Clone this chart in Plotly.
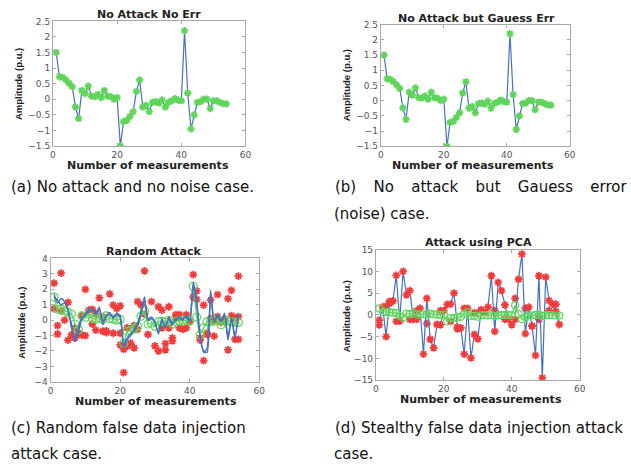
import plotly.graph_objects as go

W, H = 631, 470

# ---------------- data ----------------
meas_idx = list(range(1, 55))

no_attack = [1.5, 0.72, 0.70, 0.62, 0.52, 0.40, -0.25, -0.62, 0.28, 0.18,
             0.42, 0.10, 0.08, 0.15, 0.05, 0.28, 0.10, 0.08, 0.00, 0.05,
             -1.50, -0.72, -0.68, -0.55, -0.40, 0.25, 0.62, -0.25, -0.20, -0.40,
             -0.10, -0.08, -0.12, -0.02, -0.25, -0.10, -0.05, 0.02, -0.03, -0.05,
             2.20, 0.20, -0.95, -0.50, -0.10, -0.08, 0.00, 0.00, -0.30, -0.05,
             -0.05, -0.10, -0.14, -0.15]

gauss_err = [1.5, 0.72, 0.70, 0.62, 0.52, 0.40, -0.24, -0.62, 0.28, 0.18,
             0.42, 0.10, 0.08, 0.15, 0.05, 0.28, 0.10, 0.08, 0.00, 0.05,
             -1.50, -0.72, -0.68, -0.55, -0.40, 0.25, 0.62, -0.25, -0.20, -0.40,
             -0.10, -0.08, -0.12, -0.02, -0.25, -0.10, -0.05, 0.02, -0.03, -0.05,
             2.20, 0.20, -0.95, -0.50, -0.10, -0.08, 0.00, 0.00, -0.30, -0.05,
             -0.05, -0.10, -0.14, -0.15]

rand_est1 = [1.7, 1.1, 1.4, 1.2, 0.6, -0.3, -1.4, -0.8, 0.1, 0.4,
             0.7, 0.75, 0.35, 0.85, -0.3, 0.3, 0.5, 0.1, 0.45, 0.3,
             -1.6, -1.15, -0.9, -0.7, -0.2, 0.55, 1.5, 0.1, 0.2, -0.1,
             -0.9, 0.1, -0.5, 0.2, -0.2, 0.0, 0.2, 0.1, 0.2, -0.1,
             2.45, 1.3, -1.2, -2.0, -2.1, 1.95, -0.1, 0.35, -0.1, 0.45,
             -1.3, 0.2, -1.2, 0.4]

rand_est2 = [1.5, 1.3, 1.0, 1.1, 0.7, -0.5, -1.2, -0.5, 0.2, 0.3,
             0.6, 0.6, 0.5, 0.7, -0.1, 0.25, 0.35, 0.2, 0.35, 0.2,
             -1.8, -1.3, -1.0, -0.6, -0.35, 0.4, 1.3, 0.0, 0.1, -0.2,
             -0.8, 0.0, -0.4, 0.1, -0.3, 0.1, 0.1, 0.0, 0.3, 0.0,
             2.3, 1.0, -1.0, -2.1, -1.8, 1.7, 0.0, 0.2, 0.0, 0.3,
             -1.1, 0.1, -1.0, 0.3]

rand_att_x = [1, 1, 2, 2, 3, 3, 4, 5, 5, 6, 7, 7, 8, 9, 9, 10, 10, 11, 12, 12,
              13, 14, 13, 15, 15, 16, 17, 16, 18, 18, 19, 20, 20, 21, 20, 21, 22, 22, 23, 24,
              24, 25, 25, 26, 27, 27, 28, 29, 30, 31, 31, 32, 32, 33, 33, 34, 34, 35, 35, 36,
              36, 37, 37, 38, 39, 39, 40, 41, 41, 42, 42, 43, 43, 44, 44, 45, 45, 46, 46, 47,
              47, 48, 48, 49, 49, 50, 51, 51, 52, 52, 53, 53, 54, 54, 54]
rand_att_y = [2.4, 0.75, -0.35, -0.9, 3.05, 0.6, 0.0, 1.15, -1.3, -0.95, -0.5, -1.15, -0.85, -0.97, 0.3, 2.0, -1.0, 0.65, 0.7, -0.25,
              0.4, 1.45, -0.65, -0.72, 0.2, -0.7, 1.7, -0.8, 0.97, -0.85, 0.75, 0.93, -0.85, -3.4, -1.6, -1.9, -0.5, -1.7, -1.5, -1.8,
              -0.35, -0.6, 1.2, 0.97, 3.2, 0.4, -0.93, 1.2, -1.67, -2.0, 0.87, 0.65, -0.5, -1.52, -1.93, -0.5, 0.87, -1.15, -1.35, 0.12,
              0.35, -0.5, 0.35, -0.6, 0.35, -0.5, -0.1, 2.95, 1.5, 1.9, 1.35, -1.15, -1.3, -2.63, 0.97, -0.83, -0.93, 1.3, 0.1, -1.04,
              -0.1, 0.23, 1.65, -0.08, -0.15, 0.0, 1.4, -1.93, 1.93, 0.3, -1.25, 0.12, -1.25, 2.85, 0.23]

pca_attack = [-1.2, 1.8, -5.0, 3.1, 3.2, 9.1, -1.4, 10.0, 4.6, 5.6,
              -1.0, 1.0, 1.5, -9.0, 3.8, -5.6, -7.6, -2.2, -2.3, 1.0,
              2.4, 2.5, 5.0, -2.8, -3.0, -9.0, 1.5, -9.9, -4.5, -5.5,
              1.2, 0.5, 1.8, 9.0, -3.8, 7.5, 5.6, 2.3, -1.0, -2.3,
              -1.0, 8.2, 14.0, -4.3, 1.8, -2.6, -9.3, 9.0, -14.5, 8.7,
              3.3, 2.5, 0.8, -2.2]
pca_extra_x = [1, 3, 4, 6, 10, 12, 15, 19, 22, 24, 26, 29, 31, 35, 38, 41, 44, 46, 48, 51, 53]
pca_extra_y = [-2.3, 2.0, 2.6, -1.5, -1.0, -1.0, -2.0, 1.0, -1.5, -3.2, 1.5, 0.5, 0.9, 1.0, -1.0, 3.8, 1.5, -2.5, -1.0, 1.0, 2.5]

titles = ["No Attack No Err", "No Attack but Gauess Err", "Random Attack", "Attack using PCA"]
x_title = "Number of measurements"
y_title = "Amplitude (p.u.)"

# ---------------- style ----------------
BLUE = "#4670c2"
GREEN = "#5fd65a"
RED = "#f23c3c"

fig = go.Figure()

def px_x(v):
    return v / W

def px_y(v):
    return 1 - v / H

# subplot boxes in pixels: (left, right, top, bottom)
boxes = [(50.7, 246, 16.7, 144), (383.3, 575, 20, 144.3),
         (48.3, 260, 259, 385), (378.3, 585, 250, 383.3)]
yranges = [[-1.5, 2.5], [-1.5, 2.5], [-4, 4], [-15, 15]]
ydticks = [0.5, 0.5, 1, 5]

ast_green = dict(symbol="asterisk-open", size=6, color=GREEN, line=dict(color=GREEN, width=1.8))
ast_red = dict(symbol="asterisk-open", size=6.5, color=RED, line=dict(color=RED, width=1.8))

# (a)
fig.add_trace(go.Scatter(x=meas_idx, y=no_attack, mode="lines+markers",
                         line=dict(color=BLUE, width=1.2), marker=ast_green,
                         xaxis="x", yaxis="y", showlegend=False))
# (b)
fig.add_trace(go.Scatter(x=meas_idx, y=gauss_err, mode="lines+markers",
                         line=dict(color=BLUE, width=1.2), marker=ast_green,
                         xaxis="x2", yaxis="y2", showlegend=False))
# (c)
fig.add_trace(go.Scatter(x=rand_att_x, y=rand_att_y, mode="markers", marker=ast_red,
                         xaxis="x3", yaxis="y3", showlegend=False))
fig.add_trace(go.Scatter(x=meas_idx, y=no_attack, mode="lines+markers",
                         line=dict(color=GREEN, width=1.3, shape="spline", smoothing=0.6),
                         marker=dict(symbol="circle-open", size=8, color=GREEN,
                                     line=dict(color=GREEN, width=1.2)),
                         xaxis="x3", yaxis="y3", showlegend=False))
fig.add_trace(go.Scatter(x=meas_idx, y=rand_est1, mode="lines",
                         line=dict(color=BLUE, width=1.4, shape="spline", smoothing=0.6),
                         xaxis="x3", yaxis="y3", showlegend=False))
fig.add_trace(go.Scatter(x=meas_idx, y=rand_est2, mode="lines",
                         line=dict(color=BLUE, width=1.4, shape="spline", smoothing=0.6),
                         xaxis="x3", yaxis="y3", showlegend=False))
# (d)
fig.add_trace(go.Scatter(x=pca_extra_x, y=pca_extra_y, mode="markers", marker=ast_red,
                         xaxis="x4", yaxis="y4", showlegend=False))
fig.add_trace(go.Scatter(x=meas_idx, y=pca_attack, mode="lines+markers",
                         line=dict(color=BLUE, width=1.2), marker=ast_red,
                         xaxis="x4", yaxis="y4", showlegend=False))
fig.add_trace(go.Scatter(x=meas_idx, y=no_attack, mode="lines+markers",
                         line=dict(color=GREEN, width=1.3),
                         marker=dict(symbol="circle-open", size=7, color=GREEN,
                                     line=dict(color=GREEN, width=1.2)),
                         xaxis="x4", yaxis="y4", showlegend=False))

layout = dict(width=W, height=H, margin=dict(l=0, r=0, t=0, b=0),
              paper_bgcolor="white", plot_bgcolor="white", showlegend=False)

tickfont = dict(family="DejaVu Sans", size=9, color="#555555")
for i, (l, r, t, b) in enumerate(boxes):
    sfx = "" if i == 0 else str(i + 1)
    layout["xaxis" + sfx] = dict(domain=[px_x(l), px_x(r)], range=[0, 60], dtick=20,
                                 anchor="y" + sfx, showgrid=False, zeroline=False,
                                 showline=True, linecolor="#a8a8a8", linewidth=1, mirror="ticks",
                                 ticks="inside", ticklen=3, tickcolor="#a8a8a8",
                                 tickfont=tickfont, ticklabelstandoff=0)
    layout["yaxis" + sfx] = dict(domain=[px_y(b), px_y(t)], range=yranges[i], dtick=ydticks[i],
                                 anchor="x" + sfx, showgrid=False, zeroline=False,
                                 showline=True, linecolor="#a8a8a8", linewidth=1, mirror="ticks",
                                 ticks="inside", ticklen=3, tickcolor="#a8a8a8",
                                 tickfont=tickfont)
fig.update_layout(**layout)

ann = []
title_pos = [(148, 10), (480, 14), (153, 252), (482, 243)]
xt_pos = [(147, 164), (477, 164), (155, 405), (485, 403)]
yt_pos = [(15, 81), (348, 82), (18, 325), (348, 318)]
bold = dict(family="DejaVu Sans", size=11, color="#222222")
for i in range(4):
    ann.append(dict(text="<b>%s</b>" % titles[i], x=px_x(title_pos[i][0]), y=px_y(title_pos[i][1]),
                    xref="paper", yref="paper", showarrow=False, font=bold,
                    xanchor="center", yanchor="middle"))
    ann.append(dict(text="<b>%s</b>" % x_title, x=px_x(xt_pos[i][0]), y=px_y(xt_pos[i][1]),
                    xref="paper", yref="paper", showarrow=False, font=bold,
                    xanchor="center", yanchor="middle"))
    ann.append(dict(text="<b>%s</b>" % y_title, x=px_x(yt_pos[i][0]), y=px_y(yt_pos[i][1]),
                    xref="paper", yref="paper", showarrow=False, textangle=-90,
                    font=dict(family="Liberation Sans", size=9.5, color="#222222"),
                    xanchor="center", yanchor="middle"))

cap_font = dict(family="DejaVu Sans", size=15, color="#111111")
sp = " \u00a0\u00a0\u2009"
captions = [
    ("(a) No attack and no noise case.", 6, 186),
    (sp.join(["(b)", "No", "attack", "but", "Gauess", "error"]), 335, 186),
    ("(noise) case.", 334, 214),
    ("(c) Random false data injection", 6, 432),
    ("attack case.", 6, 459),
    ("(d) Stealthy false data injection attack", 335, 432),
    ("case.", 334, 459),
]
for txt, x0, y0 in captions:
    ann.append(dict(text=txt, x=px_x(x0), y=px_y(y0), xref="paper", yref="paper",
                    showarrow=False, font=cap_font, xanchor="left", yanchor="middle"))

fig.update_layout(annotations=ann)
fig.write_html("out.html")
